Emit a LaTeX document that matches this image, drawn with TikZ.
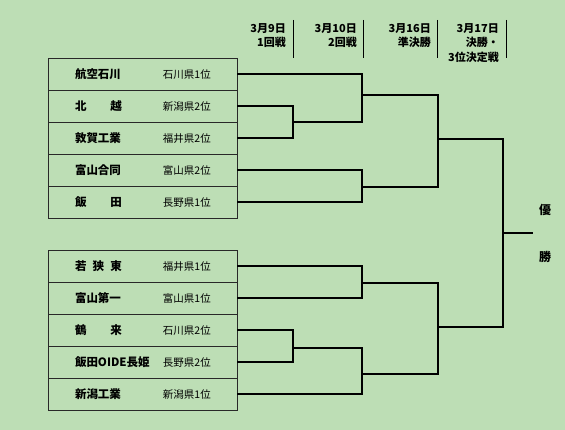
\documentclass[tikz,border=0pt]{standalone}
\usepackage{fontspec}
\setmainfont{Noto Sans CJK JP}
\definecolor{bggreen}{RGB}{189,222,181}
\definecolor{boxline}{RGB}{40,40,40}
% one row of the list: school name, then prefecture place
\newcommand{\team}[2]{\makebox[189pt][l]{\hspace{27pt}\makebox[88pt][l]{\fontsize{11.5pt}{13pt}\selectfont\bfseries #1}{\fontsize{10.5pt}{12pt}\selectfont #2}}}
\newcommand{\spreadname}[1]{\makebox[47pt][s]{#1}}
\begin{document}
\begin{tikzpicture}[
  x=1pt, y=-1pt,
  teamrow/.style={draw=boxline, line width=0.7pt, minimum width=189pt, minimum height=32pt, inner sep=0pt},
  bracket/.style={line width=1.3pt, line join=miter},
  daylabel/.style={anchor=north east, align=right, inner sep=0pt, font=\fontsize{11pt}{14.5pt}\selectfont\bfseries},
  winlabel/.style={font=\fontsize{12pt}{14pt}\selectfont\bfseries, inner sep=0pt}
]
% Background
\fill[bggreen] (0,0) rectangle (565,430);
\useasboundingbox (0,0) rectangle (565,430);

% Header
\node[daylabel] (h1) at (286,23) {3月9日\\1回戦};
\node[daylabel] (h2) at (357,23) {3月10日\\2回戦};
\node[daylabel] (h3) at (431,23) {3月16日\\準決勝};
\node[daylabel] (h4) at (499,23) {3月17日\\決勝・\\3位決定戦};
\foreach \sx in {293,363,437,506}
  \draw[line width=1pt] (\sx,20) -- (\sx,58);

% Upper block
\node[teamrow] (t1) at (142.5,74)  {\team{航空石川}{石川県1位}};
\node[teamrow] (t2) at (142.5,106) {\team{\spreadname{北\hfill 越}}{新潟県2位}};
\node[teamrow] (t3) at (142.5,138) {\team{敦賀工業}{福井県2位}};
\node[teamrow] (t4) at (142.5,170) {\team{富山合同}{富山県2位}};
\node[teamrow] (t5) at (142.5,202) {\team{\spreadname{飯\hfill 田}}{長野県1位}};

% Lower block
\node[teamrow] (t6)  at (142.5,266) {\team{\spreadname{若\hfill 狭\hfill 東}}{福井県1位}};
\node[teamrow] (t7)  at (142.5,298) {\team{富山第一}{富山県1位}};
\node[teamrow] (t8)  at (142.5,330) {\team{\spreadname{鶴\hfill 来}}{石川県2位}};
\node[teamrow] (t9)  at (142.5,362) {\team{飯田OIDE長姫}{長野県2位}};
\node[teamrow] (t10) at (142.5,394) {\team{新潟工業}{新潟県1位}};

% Junctions
\coordinate (a1) at (293,122);
\coordinate (b1) at (362,95);
\coordinate (b2) at (362,187);
\coordinate (c1) at (438,139);
\coordinate (b3) at (362,283);
\coordinate (a2) at (293,348);
\coordinate (b4) at (362,374);
\coordinate (c2) at (438,327);
\coordinate (f)  at (503,233);
\coordinate (win) at (533,233);

% Bracket lines
\draw[bracket] (t2.east) -| (a1) |- (t3.east);
\draw[bracket] (t1.east) -| (b1) |- (a1);
\draw[bracket] (t4.east) -| (b2) |- (t5.east);
\draw[bracket] (b1) -| (c1) |- (b2);
\draw[bracket] (t6.east) -| (b3) |- (t7.east);
\draw[bracket] (t8.east) -| (a2) |- (t9.east);
\draw[bracket] (a2) -| (b4) |- (t10.east);
\draw[bracket] (b3) -| (c2) |- (b4);
\draw[bracket] (c1) -| (f) |- (c2);
\draw[bracket] (f) -- (win);

% Winner
\node[winlabel] (w1) at (545,210) {優};
\node[winlabel] (w2) at (545,257) {勝};
\end{tikzpicture}
\end{document}
